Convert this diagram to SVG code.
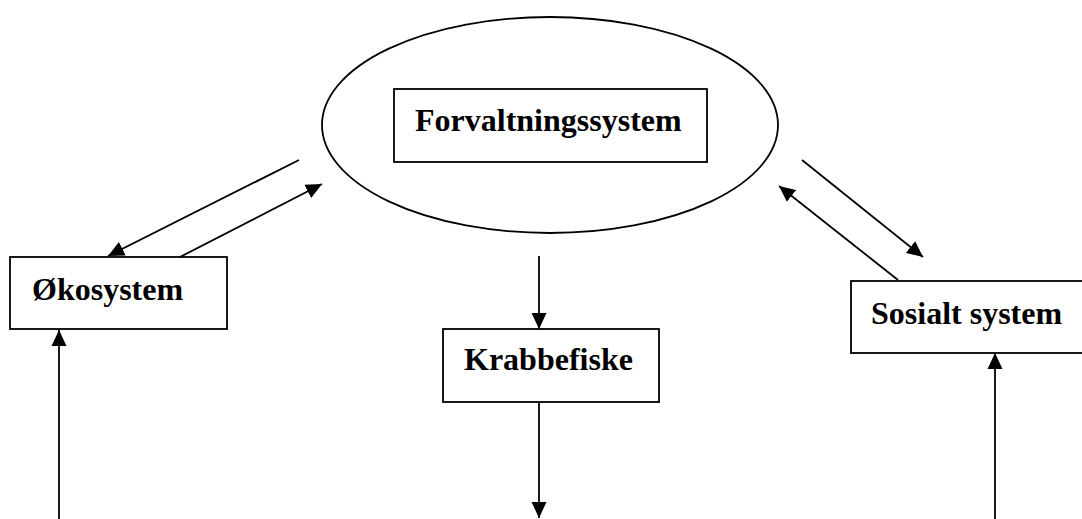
<svg xmlns="http://www.w3.org/2000/svg" width="1082" height="519" viewBox="0 0 1082 519">
<style>
.box{fill:#fff;stroke:#000;stroke-width:1.8}
.lbl{font-family:"Liberation Serif","Times New Roman",serif;font-weight:bold;font-size:32px;fill:#000}
.c{stroke:#000;stroke-width:1.8;fill:none;marker-end:url(#ah)}
</style>
<defs>
<marker id="ah" markerUnits="userSpaceOnUse" markerWidth="16" markerHeight="16" viewBox="0 0 16 15" refX="16" refY="7.5" orient="auto">
<path d="M0,0 L16,7.5 L0,15 Z" fill="#000"/>
</marker>
</defs>
<rect width="1082" height="519" fill="#fff"/>
<g id="forvaltning">
<ellipse cx="550" cy="125" rx="228" ry="108" fill="#fff" stroke="#000" stroke-width="1.8"/>
<rect class="box" x="394" y="89" width="313" height="73"/>
<text class="lbl" x="415" y="131">Forvaltningssystem</text>
</g>
<g id="okosystem">
<rect class="box" x="10" y="257" width="217" height="72"/>
<text class="lbl" x="32" y="300">Økosystem</text>
</g>
<g id="krabbefiske">
<rect class="box" x="443" y="329" width="216" height="73"/>
<text class="lbl" x="464" y="370">Krabbefiske</text>
</g>
<g id="sosialt">
<rect class="box" x="851" y="281" width="240" height="72"/>
<text class="lbl" x="871" y="324">Sosialt system</text>
</g>
<g id="connectors">
<line class="c" x1="299" y1="160" x2="108" y2="256"/>
<line class="c" x1="180" y1="257" x2="322" y2="184"/>
<line class="c" x1="802" y1="160" x2="923" y2="257"/>
<line class="c" x1="898" y1="280" x2="779" y2="186"/>
<line class="c" x1="539" y1="256" x2="539" y2="329"/>
<line class="c" x1="539" y1="402" x2="539" y2="518"/>
<line class="c" x1="59" y1="519" x2="59" y2="330"/>
<line class="c" x1="995" y1="519" x2="995" y2="353"/>
</g>
</svg>
